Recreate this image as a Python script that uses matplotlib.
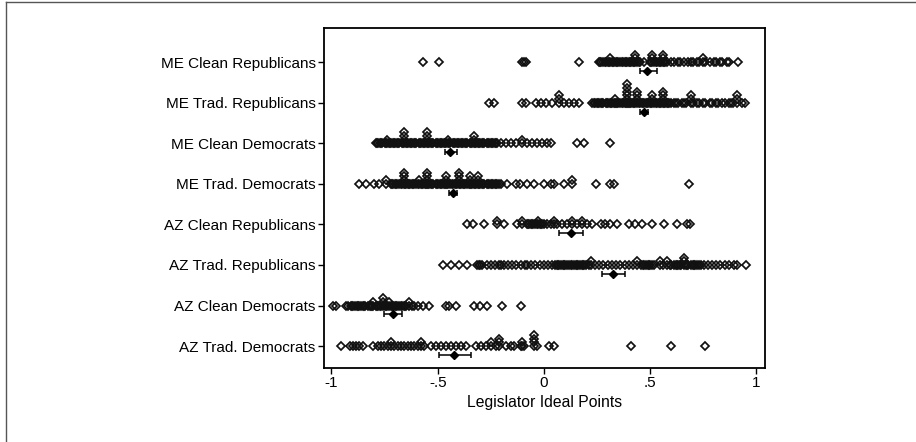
import matplotlib
matplotlib.use("Agg")
import matplotlib.pyplot as plt
from matplotlib.lines import Line2D

plt.rcParams['font.family'] = ['Liberation Sans', 'DejaVu Sans']

categories = ["ME Clean Republicans", "ME Trad. Republicans", "ME Clean Democrats",
              "ME Trad. Democrats", "AZ Clean Republicans", "AZ Trad. Republicans",
              "AZ Clean Democrats", "AZ Trad. Democrats"]

me_clean_rep = [-0.567, -0.496, -0.105, -0.095, -0.086, 0.164,
                0.258, 0.265, 0.27, 0.28, 0.285, 0.29, 0.30, 0.305, 0.31, 0.31, 0.32,
                0.325, 0.33, 0.34, 0.345, 0.35, 0.36, 0.365, 0.37, 0.38, 0.385, 0.39,
                0.40, 0.405, 0.41, 0.42, 0.425, 0.43, 0.43, 0.43, 0.44, 0.445, 0.45,
                0.469, 0.50, 0.505, 0.51, 0.51, 0.51, 0.52, 0.525, 0.53, 0.54, 0.545,
                0.55, 0.56, 0.56, 0.56, 0.565, 0.57, 0.58, 0.60, 0.61, 0.63, 0.64, 0.66,
                0.68, 0.69, 0.70, 0.72, 0.73, 0.75, 0.75, 0.76, 0.78, 0.80, 0.81, 0.83,
                0.84, 0.86, 0.87, 0.915]

me_trad_rep = [-0.258, -0.235, -0.102, -0.086, -0.039, -0.016, 0.008, 0.04, 0.07, 0.07,
               0.07, 0.094, 0.117, 0.141, 0.164,
               0.227, 0.235, 0.24, 0.25, 0.255, 0.26, 0.27, 0.275, 0.28, 0.29, 0.295,
               0.30, 0.31, 0.315, 0.32, 0.33, 0.336, 0.336, 0.34, 0.345, 0.35, 0.36,
               0.365, 0.37, 0.38, 0.385, 0.39, 0.39, 0.39, 0.39, 0.39, 0.39, 0.395,
               0.40, 0.405, 0.41, 0.42, 0.425, 0.43, 0.44, 0.44, 0.44, 0.44, 0.445,
               0.45, 0.46, 0.465, 0.47, 0.48, 0.485, 0.49, 0.50, 0.505, 0.51, 0.51,
               0.51, 0.52, 0.525, 0.53, 0.54, 0.545, 0.55, 0.56, 0.56, 0.56, 0.56,
               0.565, 0.57, 0.58, 0.585, 0.59, 0.60, 0.61, 0.62, 0.63, 0.65, 0.66, 0.67,
               0.69, 0.69, 0.69, 0.70, 0.72, 0.73, 0.75, 0.76, 0.78, 0.79, 0.81, 0.82,
               0.84, 0.85, 0.87, 0.88, 0.89, 0.91, 0.91, 0.91, 0.93, 0.947]

me_clean_dem = [-0.79, -0.785, -0.78, -0.77, -0.765, -0.76, -0.75, -0.745, -0.74,
                -0.74, -0.73, -0.725, -0.72, -0.71, -0.705, -0.70, -0.69, -0.685,
                -0.68, -0.67, -0.665, -0.66, -0.66, -0.66, -0.66, -0.65, -0.645, -0.64,
                -0.63, -0.625, -0.62, -0.61, -0.605, -0.60, -0.59, -0.585, -0.58,
                -0.57, -0.565, -0.56, -0.55, -0.55, -0.55, -0.55, -0.545, -0.54, -0.53,
                -0.525, -0.52, -0.51, -0.505, -0.50, -0.49, -0.485, -0.48, -0.47,
                -0.465, -0.46, -0.45, -0.45, -0.445, -0.44, -0.43, -0.425, -0.42,
                -0.41, -0.405, -0.40, -0.39, -0.385, -0.38, -0.37, -0.365, -0.36,
                -0.35, -0.345, -0.34, -0.33, -0.33, -0.33, -0.325, -0.32, -0.31,
                -0.305, -0.30, -0.29, -0.285, -0.28, -0.27, -0.265, -0.26, -0.25,
                -0.245, -0.24, -0.23, -0.225, -0.22,
                -0.203, -0.18, -0.156, -0.133, -0.102, -0.102, -0.078, -0.055, -0.031,
                -0.008, 0.016, 0.031, 0.156, 0.188, 0.31]

me_trad_dem = [-0.869, -0.837, -0.798, -0.775, -0.742, -0.742, -0.72, -0.715, -0.71,
               -0.70, -0.695, -0.69, -0.68, -0.675, -0.67, -0.66, -0.66, -0.66, -0.66,
               -0.655, -0.65, -0.64, -0.635, -0.63, -0.62, -0.615, -0.61, -0.60,
               -0.595, -0.59, -0.59, -0.58, -0.575, -0.57, -0.56, -0.555, -0.55,
               -0.55, -0.55, -0.55, -0.545, -0.54, -0.53, -0.525, -0.52, -0.51,
               -0.505, -0.50, -0.49, -0.485, -0.48, -0.47, -0.465, -0.46, -0.46,
               -0.46, -0.455, -0.45, -0.44, -0.435, -0.43, -0.42, -0.415, -0.41,
               -0.40, -0.40, -0.40, -0.40, -0.395, -0.39, -0.38, -0.375, -0.37, -0.36,
               -0.355, -0.35, -0.35, -0.35, -0.345, -0.34, -0.33, -0.325, -0.32,
               -0.31, -0.31, -0.31, -0.305, -0.30, -0.29, -0.285, -0.28, -0.27,
               -0.265, -0.26, -0.25, -0.245, -0.24, -0.23, -0.225, -0.22, -0.21,
               -0.203, -0.172, -0.133, -0.115, -0.078, -0.047, 0.0, 0.031, 0.047,
               0.094, 0.133, 0.133, 0.247, 0.313, 0.329, 0.681]

az_clean_rep = [-0.36, -0.332, -0.282, -0.219, -0.219, -0.188, -0.125, -0.102, -0.102,
                -0.08, -0.075, -0.07, -0.06, -0.055, -0.05, -0.04, -0.035, -0.03,
                -0.03, -0.02, -0.015, -0.01, 0.0, 0.016, 0.031, 0.047, 0.047, 0.063,
                0.086, 0.109, 0.133, 0.133, 0.156, 0.18, 0.18, 0.203, 0.227, 0.266,
                0.289, 0.313, 0.344, 0.399, 0.43, 0.462, 0.509, 0.563, 0.626, 0.673,
                0.689]

az_trad_rep = [-0.477, -0.438, -0.399, -0.36, -0.313, -0.305, -0.30, -0.29, -0.27,
               -0.25, -0.23, -0.21, -0.20, -0.19, -0.17, -0.15, -0.13, -0.11, -0.09,
               -0.08, -0.06, -0.04, -0.02, 0.0, 0.02, 0.04, 0.05, 0.06, 0.065, 0.07,
               0.08, 0.09, 0.095, 0.10, 0.11, 0.12, 0.125, 0.13, 0.14, 0.15, 0.155,
               0.16, 0.17, 0.18, 0.185, 0.19, 0.20, 0.21, 0.22, 0.22, 0.24, 0.26, 0.28,
               0.30, 0.32, 0.34, 0.36, 0.38, 0.40, 0.42, 0.44, 0.44, 0.455, 0.465,
               0.47, 0.48, 0.49, 0.495, 0.50, 0.51, 0.52, 0.545, 0.545, 0.56, 0.579,
               0.579, 0.595, 0.60, 0.61, 0.62, 0.625, 0.63, 0.64, 0.645, 0.657, 0.657,
               0.657, 0.67, 0.675, 0.68, 0.69, 0.70, 0.705, 0.71, 0.72, 0.73, 0.74,
               0.752, 0.77, 0.79, 0.81, 0.83, 0.85, 0.87, 0.892, 0.908, 0.952]

az_clean_dem = [-0.994, -0.978, -0.931, -0.92, -0.91, -0.905, -0.90, -0.89, -0.88,
                -0.875, -0.87, -0.86, -0.85, -0.845, -0.84, -0.83, -0.82, -0.815,
                -0.81, -0.806, -0.806, -0.79, -0.785, -0.78, -0.77, -0.765, -0.759,
                -0.759, -0.759, -0.75, -0.745, -0.74, -0.728, -0.728, -0.72, -0.715,
                -0.71, -0.70, -0.695, -0.69, -0.68, -0.675, -0.67, -0.66, -0.655,
                -0.65, -0.634, -0.634, -0.62, -0.61, -0.595, -0.571, -0.54, -0.462,
                -0.446, -0.415, -0.329, -0.30, -0.27, -0.196, -0.107]

az_trad_dem = [-0.955, -0.915, -0.899, -0.884, -0.868, -0.853, -0.806, -0.782, -0.766,
               -0.751, -0.735, -0.72, -0.72, -0.704, -0.688, -0.673, -0.657, -0.641,
               -0.626, -0.61, -0.594, -0.58, -0.58, -0.563, -0.532, -0.509, -0.485,
               -0.462, -0.438, -0.415, -0.391, -0.368, -0.321, -0.298, -0.274, -0.25,
               -0.25, -0.227, -0.211, -0.211, -0.211, -0.18, -0.156, -0.141, -0.11,
               -0.102, -0.102, -0.094, -0.047, -0.047, -0.047, -0.047, -0.031,
               0.023, 0.047, 0.41, 0.598, 0.756]

series = [me_clean_rep, me_trad_rep, me_clean_dem, me_trad_dem,
          az_clean_rep, az_trad_rep, az_clean_dem, az_trad_dem]

means = [0.485, 0.469, -0.441, -0.426, 0.128, 0.325, -0.712, -0.423]
ci_low = [0.454, 0.451, -0.465, -0.446, 0.073, 0.274, -0.751, -0.493]
ci_high = [0.532, 0.489, -0.410, -0.407, 0.185, 0.379, -0.670, -0.344]

xticks = [-1, -0.5, 0, 0.5, 1]
xticklabels = ["-1", "-.5", "0", ".5", "1"]

fig = plt.figure(figsize=(9.16, 4.42), dpi=100)
ax = fig.add_axes([324/916, 1-368/442, (765-324)/916, (368-28)/442])

n = len(categories)
ypos = list(range(n, 0, -1))
stack_step = 0.09
mean_off = 0.22

for yy, vals in zip(ypos, series):
    counts = {}
    ys = []
    for v in vals:
        k = round(v, 3)
        c = counts.get(k, 0)
        counts[k] = c + 1
        ys.append(yy + c * stack_step)
    ax.plot(vals, ys, linestyle='none', marker='D', markersize=4.4,
            markerfacecolor='none', markeredgecolor='#111111', markeredgewidth=1.25)

for yy, m, lo, hi in zip(ypos, means, ci_low, ci_high):
    ax.errorbar([m], [yy - mean_off], xerr=[[m - lo], [hi - m]], fmt='D',
                color='black', markersize=4.0, elinewidth=1.1, capsize=2.5,
                capthick=1.1)

ax.set_xlim(-1.035, 1.04)
ax.set_ylim(0.46, 8.84)
ax.set_yticks(ypos)
ax.set_yticklabels(categories, fontsize=11)
ax.set_xticks(xticks)
ax.set_xticklabels(xticklabels, fontsize=11)
ax.set_xlabel("Legislator Ideal Points", fontsize=11.3, labelpad=3)
ax.tick_params(axis='both', length=4, width=1, color='black', pad=2)
for s in ax.spines.values():
    s.set_linewidth(1.3)
    s.set_color('black')

fig.add_artist(Line2D([6/916, 6/916], [0, 1-2/442], transform=fig.transFigure,
                      color='#555555', lw=1))
fig.add_artist(Line2D([6/916, 1], [1-2/442, 1-2/442], transform=fig.transFigure,
                      color='#555555', lw=1))

fig.savefig("out.png", dpi=100)
